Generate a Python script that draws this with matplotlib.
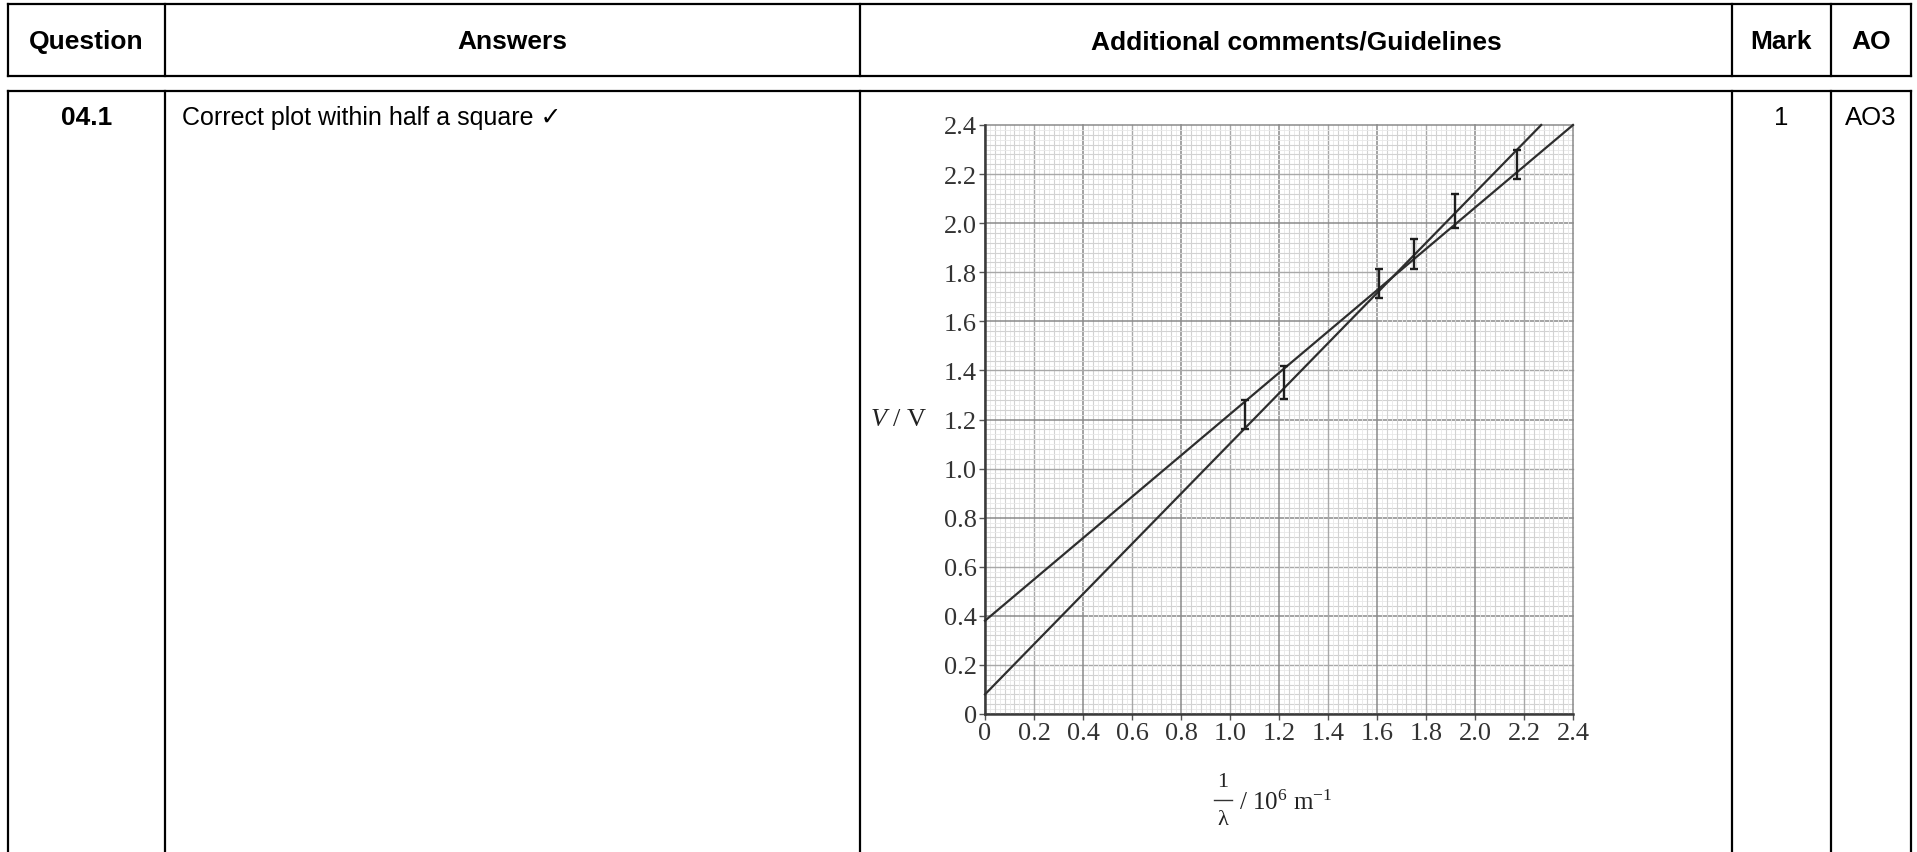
import numpy as np
import matplotlib
matplotlib.use("Agg")
import matplotlib.pyplot as plt

plt.rcParams['mathtext.fontset'] = 'custom'
plt.rcParams['mathtext.rm'] = 'Liberation Serif'
plt.rcParams['mathtext.it'] = 'Liberation Serif:italic'

# table content
headers = ["Question", "Answers", "Additional comments/Guidelines", "Mark", "AO"]
question = "04.1"
answer = "Correct plot within half a square \u2713"
mark = "1"
ao = "AO3"

# graph data: 1/lambda (10^6 m^-1), V (V) and half error bar
inv_lambda = [1.06, 1.22, 1.61, 1.75, 1.92, 2.17]
voltage = [1.22, 1.35, 1.755, 1.875, 2.05, 2.24]
v_err = [0.06, 0.068, 0.06, 0.062, 0.07, 0.06]

# the two drawn gradient lines (start / end points)
line_x = [[0.0, 2.4], [0.0, 2.27]]
line_y = [[0.38, 2.40], [0.08, 2.40]]

tick_vals = [0, 0.2, 0.4, 0.6, 0.8, 1.0, 1.2, 1.4, 1.6, 1.8, 2.0, 2.2, 2.4]
tick_labels = ["0", "0.2", "0.4", "0.6", "0.8", "1.0", "1.2", "1.4", "1.6",
               "1.8", "2.0", "2.2", "2.4"]

W, H = 1917, 853
fig = plt.figure(figsize=(W / 100, H / 100), dpi=100)
bg = fig.add_axes([0, 0, 1, 1])
bg.set_xlim(0, W)
bg.set_ylim(H, 0)
bg.axis('off')

# table frame
cols = [8, 165, 860, 1732, 1831, 1911]
top, head_bot, body_top = 5, 77, 92
lw = 1.6
bg.plot([cols[0], cols[-1]], [top, top], color='black', lw=lw)
bg.plot([cols[0], cols[-1]], [head_bot, head_bot], color='black', lw=lw)
bg.plot([cols[0], cols[-1]], [body_top, body_top], color='black', lw=lw)
for c in cols:
    bg.plot([c, c], [top, head_bot], color='black', lw=lw)
    bg.plot([c, c], [body_top, H], color='black', lw=lw)

sans = 'Liberation Sans'
for i, h in enumerate(headers):
    bg.text((cols[i] + cols[i + 1]) / 2, 42, h, ha='center', va='center',
            fontsize=19, fontweight='bold', family=sans)

row_y = 118
bg.text((cols[0] + cols[1]) / 2, row_y, question, ha='center', va='center',
        fontsize=19, fontweight='bold', family=sans)
bg.text(cols[1] + 17, row_y, answer, ha='left', va='center', fontsize=18,
        family=[sans, 'DejaVu Sans'])
bg.text((cols[3] + cols[4]) / 2, row_y, mark, ha='center', va='center',
        fontsize=18.5, family=sans)
bg.text((cols[4] + cols[5]) / 2, row_y, ao, ha='center', va='center',
        fontsize=18.5, family=sans)

# graph
x0, x1, y0, y1 = 985, 1573, 715, 126
ax = fig.add_axes([x0 / W, (H - y0) / H, (x1 - x0) / W, (y0 - y1) / H])
ax.set_xlim(0, 2.4)
ax.set_ylim(0, 2.4)

for i in range(121):
    v = i * 0.02
    if i % 20 == 0:
        col, w = '#8a8a8a', 1.1
    elif i % 10 == 0:
        col, w = '#a8a8a8', 1.0
    elif i % 2 == 0:
        col, w = '#d2d2d2', 0.8
    else:
        col, w = '#e8e8e8', 0.6
    ax.axvline(v, color=col, lw=w, zorder=0, clip_on=False)
    ax.axhline(v, color=col, lw=w, zorder=0, clip_on=False)

for s in ['top', 'right']:
    ax.spines[s].set_visible(False)
for s in ['left', 'bottom']:
    ax.spines[s].set_color('#3a3a3a')
    ax.spines[s].set_linewidth(1.8)

for lx, ly in zip(line_x, line_y):
    ax.plot(lx, ly, color='#2e2e2e', lw=1.6, zorder=3, clip_on=False)

ax.errorbar(inv_lambda, voltage, yerr=v_err, fmt='none', ecolor='#1e1e1e',
            elinewidth=1.7, capsize=3, capthick=1.7, zorder=4)

serif = 'Liberation Serif'
ax.set_xticks(tick_vals)
ax.set_xticklabels(tick_labels, family=serif, fontsize=19, color='#333333')
ax.set_yticks(tick_vals)
ax.set_yticklabels(tick_labels, family=serif, fontsize=19, color='#333333')
ax.tick_params(direction='out', length=4, width=1, color='#555555', pad=2)

bg.text(927, 420, r"$V$ / V", ha='right', va='center', fontsize=19,
        family=serif, color='#222222')

# x axis label: 1/lambda / 10^6 m^-1
bg.text(1223, 783, "1", ha='center', va='center', fontsize=16, family=serif,
        color='#222222')
bg.plot([1214, 1232], [801, 801], color='#333333', lw=1)
bg.text(1223, 821, "\u03bb", ha='center', va='center', fontsize=16,
        family=serif, color='#222222')
bg.text(1239, 803, r"/ 10$^{6}$ m$^{-1}$", ha='left', va='center',
        fontsize=18, family=serif, color='#222222')

fig.savefig("out.png", dpi=100)
